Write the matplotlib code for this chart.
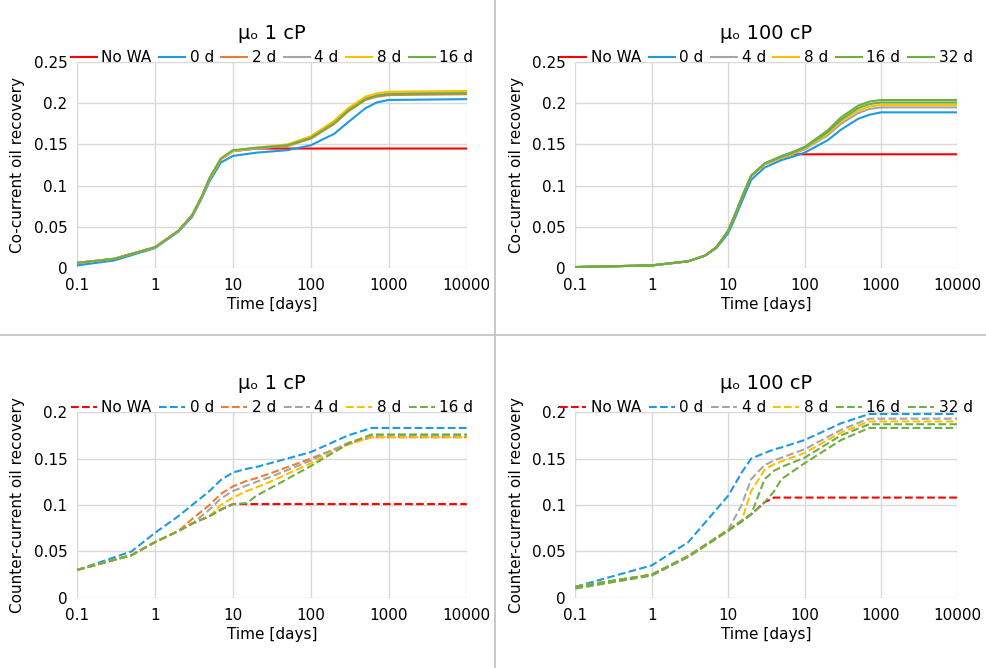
import matplotlib.pyplot as plt
from matplotlib.lines import Line2D

C = {"No WA": "#FF0000", "0 d": "#1E9BE0", "2 d": "#ED7D31", "4 d": "#A5A5A5",
     "8 d": "#FFC000", "16 d": "#70AD47", "32 d": "#70AD47"}

# top-left, mu_o 1 cP, co-current
tl_x = [0.1, 0.3, 1, 2, 3, 4, 5, 7, 10, 20, 50, 100, 200, 300, 500, 700, 1000, 10000]
tl = {
    "No WA": [0.006, 0.011, 0.025, 0.045, 0.064, 0.087, 0.108, 0.132, 0.142, 0.145, 0.145, 0.145, 0.145, 0.145, 0.145, 0.145, 0.145, 0.145],
    "0 d":   [0.003, 0.009, 0.024, 0.044, 0.062, 0.085, 0.105, 0.128, 0.136, 0.14, 0.143, 0.149, 0.163, 0.177, 0.194, 0.201, 0.204, 0.205],
    "2 d":   [0.006, 0.011, 0.025, 0.045, 0.064, 0.087, 0.108, 0.132, 0.142, 0.145, 0.148, 0.157, 0.175, 0.19, 0.204, 0.208, 0.21, 0.211],
    "4 d":   [0.006, 0.011, 0.025, 0.045, 0.064, 0.087, 0.108, 0.132, 0.142, 0.145, 0.149, 0.158, 0.177, 0.192, 0.206, 0.21, 0.212, 0.213],
    "8 d":   [0.006, 0.011, 0.025, 0.045, 0.064, 0.087, 0.108, 0.132, 0.142, 0.146, 0.15, 0.16, 0.179, 0.194, 0.208, 0.212, 0.214, 0.215],
    "16 d":  [0.006, 0.011, 0.025, 0.045, 0.064, 0.087, 0.109, 0.133, 0.143, 0.146, 0.149, 0.158, 0.176, 0.191, 0.205, 0.209, 0.211, 0.212],
}
# top-right, mu_o 100 cP, co-current
tr_x = [0.1, 1, 3, 5, 7, 10, 13, 15, 20, 30, 50, 70, 100, 200, 300, 500, 700, 1000, 10000]
tr = {
    "No WA": [0.001, 0.003, 0.008, 0.015, 0.025, 0.045, 0.07, 0.085, 0.112, 0.126, 0.134, 0.138, 0.138, 0.138, 0.138, 0.138, 0.138, 0.138, 0.138],
    "0 d":   [0.001, 0.003, 0.008, 0.015, 0.024, 0.042, 0.066, 0.08, 0.107, 0.122, 0.131, 0.135, 0.14, 0.155, 0.168, 0.181, 0.186, 0.189, 0.189],
    "4 d":   [0.001, 0.003, 0.008, 0.015, 0.025, 0.045, 0.07, 0.085, 0.112, 0.126, 0.134, 0.138, 0.144, 0.161, 0.175, 0.188, 0.193, 0.195, 0.195],
    "8 d":   [0.001, 0.003, 0.008, 0.015, 0.025, 0.045, 0.07, 0.085, 0.112, 0.126, 0.134, 0.139, 0.145, 0.163, 0.178, 0.191, 0.196, 0.198, 0.198],
    "16 d":  [0.001, 0.003, 0.008, 0.015, 0.025, 0.045, 0.07, 0.085, 0.112, 0.127, 0.135, 0.14, 0.146, 0.165, 0.18, 0.194, 0.199, 0.201, 0.201],
    "32 d":  [0.001, 0.003, 0.008, 0.015, 0.025, 0.045, 0.07, 0.085, 0.112, 0.127, 0.136, 0.141, 0.147, 0.167, 0.183, 0.197, 0.202, 0.204, 0.204],
}
# bottom-left, mu_o 1 cP, counter-current
bl_x = [0.1, 0.5, 1, 2, 3, 5, 7, 10, 15, 20, 30, 100, 300, 600, 10000]
bl = {
    "No WA": [0.03, 0.046, 0.06, 0.072, 0.08, 0.088, 0.095, 0.101, 0.101, 0.101, 0.101, 0.101, 0.101, 0.101, 0.101],
    "0 d":   [0.03, 0.05, 0.07, 0.088, 0.1, 0.115, 0.127, 0.135, 0.139, 0.141, 0.145, 0.157, 0.175, 0.183, 0.183],
    "2 d":   [0.03, 0.046, 0.06, 0.072, 0.085, 0.1, 0.112, 0.12, 0.126, 0.129, 0.134, 0.15, 0.166, 0.173, 0.173],
    "4 d":   [0.03, 0.046, 0.06, 0.072, 0.08, 0.095, 0.107, 0.115, 0.121, 0.125, 0.13, 0.148, 0.167, 0.175, 0.175],
    "8 d":   [0.03, 0.046, 0.06, 0.072, 0.08, 0.088, 0.1, 0.108, 0.115, 0.119, 0.125, 0.145, 0.165, 0.173, 0.173],
    "16 d":  [0.03, 0.046, 0.06, 0.072, 0.08, 0.088, 0.095, 0.101, 0.102, 0.11, 0.118, 0.142, 0.166, 0.176, 0.176],
}
# bottom-right, mu_o 100 cP, counter-current
br_x = [0.1, 1, 3, 10, 15, 20, 30, 40, 50, 100, 300, 700, 10000]
br = {
    "No WA": [0.012, 0.025, 0.045, 0.073, 0.083, 0.09, 0.103, 0.108, 0.108, 0.108, 0.108, 0.108, 0.108],
    "0 d":   [0.012, 0.035, 0.06, 0.11, 0.135, 0.15, 0.156, 0.16, 0.162, 0.17, 0.188, 0.198, 0.198],
    "4 d":   [0.012, 0.025, 0.045, 0.073, 0.1, 0.128, 0.143, 0.148, 0.151, 0.16, 0.181, 0.193, 0.193],
    "8 d":   [0.012, 0.025, 0.045, 0.073, 0.083, 0.115, 0.138, 0.144, 0.147, 0.156, 0.178, 0.19, 0.19],
    "16 d":  [0.012, 0.025, 0.045, 0.073, 0.083, 0.09, 0.128, 0.137, 0.141, 0.151, 0.175, 0.187, 0.187],
    "32 d":  [0.01, 0.024, 0.044, 0.072, 0.082, 0.09, 0.103, 0.115, 0.128, 0.145, 0.17, 0.183, 0.183],
}

xticks = [0.1, 1, 10, 100, 1000, 10000]
xlabels = ["0.1", "1", "10", "100", "1000", "10000"]

fig = plt.figure(figsize=(9.87, 6.68), dpi=100)
plt.rcParams["font.family"] = ["DejaVu Sans"]

panels = [
    (tl_x, tl, "μₒ 1 cP", "Co-current oil recovery", "-", [0.078, 0.599, 0.395, 0.308], 0.25),
    (tr_x, tr, "μₒ 100 cP", "Co-current oil recovery", "-", [0.583, 0.599, 0.387, 0.308], 0.25),
    (bl_x, bl, "μₒ 1 cP", "Counter-current oil recovery", "--", [0.078, 0.105, 0.395, 0.278], 0.2),
    (br_x, br, "μₒ 100 cP", "Counter-current oil recovery", "--", [0.583, 0.105, 0.387, 0.278], 0.2),
]

for xs, series, title, ylab, ls, rect, ymax in panels:
    ax = fig.add_axes(rect)
    for name, ys in series.items():
        ax.plot(xs, ys, ls=ls, color=C[name], lw=1.5, label=name)
    ax.set_xscale("log")
    ax.set_xlim(0.1, 10000)
    ax.set_ylim(0, ymax)
    ax.set_xticks(xticks)
    ax.set_xticklabels(xlabels)
    ax.minorticks_off()
    yt = [i * 0.05 for i in range(int(round(ymax / 0.05)) + 1)]
    ax.set_yticks(yt)
    ax.set_yticklabels(["0"] + [f"{v:g}" for v in yt[1:]])
    ax.grid(True, color="#D9D9D9", lw=1)
    ax.set_axisbelow(True)
    for s in ax.spines.values():
        s.set_visible(False)
    ax.tick_params(length=0, labelsize=11, pad=7)
    ax.set_xlabel("Time [days]", fontsize=11, labelpad=3)
    ax.set_ylabel(ylab, fontsize=11, labelpad=6)
    ax.set_title(title, fontsize=14, pad=17)
    ax.legend(loc="lower center", bbox_to_anchor=(0.5, 0.985), ncol=6, frameon=False,
              fontsize=11, handlelength=1.7, columnspacing=0.5, handletextpad=0.3,
              borderaxespad=0, borderpad=0)

# panel separators
fig.add_artist(Line2D([0.502, 0.502], [0, 1], color="#BFBFBF", lw=1.2))
fig.add_artist(Line2D([0, 1], [0.498, 0.498], color="#BFBFBF", lw=1.2))

fig.savefig("out.png", dpi=100)
